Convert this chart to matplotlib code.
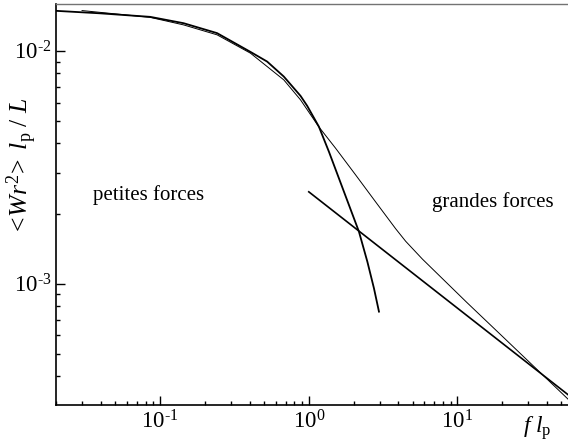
import matplotlib
matplotlib.use("Agg")
import matplotlib.pyplot as plt
import numpy as np
from matplotlib.ticker import LogLocator, NullFormatter, FuncFormatter

plt.rcParams['font.family'] = ['Liberation Serif', 'DejaVu Serif']
plt.rcParams['mathtext.fontset'] = 'custom'
plt.rcParams['mathtext.rm'] = 'Liberation Serif'
plt.rcParams['mathtext.it'] = 'Liberation Serif:italic'
plt.rcParams['mathtext.bf'] = 'Liberation Serif:bold'
plt.rcParams['axes.unicode_minus'] = False

# Exact curve (thin)
exact_f = [0.0298, 0.0857, 0.1437, 0.2414, 0.405, 0.679, 0.880, 1.169, 1.514, 2.066,
           2.818, 3.846, 4.49, 5.821, 11.58, 19.63, 32.8, 56.4]
exact_y = [0.01490, 0.01393, 0.01293, 0.01172, 0.009775, 0.007505, 0.006158, 0.004714,
           0.003819, 0.002932, 0.002244, 0.001720, 0.001520, 0.001274, 0.000830,
           0.000602, 0.000440, 0.000316]

# Small-force approximation (thick)
small_f = [0.0199, 0.0394, 0.0857, 0.1437, 0.2414, 0.405, 0.5246, 0.679, 0.880, 0.976,
           1.169, 1.365, 1.594, 1.862, 2.175, 2.478, 2.745, 2.967]
small_y = [0.01486, 0.01450, 0.01400, 0.01315, 0.01192, 0.00990, 0.008995, 0.007757,
           0.006406, 0.005802, 0.004728, 0.003694, 0.002838, 0.002179, 0.001673,
           0.001243, 0.000955, 0.000758]

# Large-force asymptote (straight line)
large_f = [1.0, 56.0]
large_y = [2.48e-3, 3.32e-4]


def log_label(v, pos):
    e = int(round(np.log10(v)))
    if e < 0:
        return r'$10^{\text{-}%d}$' % (-e)
    return r'$10^{%d}$' % e


fig = plt.figure(figsize=(5.68, 4.45), dpi=100)
ax = fig.add_axes([56/568, 1 - 405/445, 1 - 56/568 + 0.002, (405 - 4)/445])

ax.plot(exact_f, exact_y, color='black', lw=0.7, solid_joinstyle='round')
ax.plot(small_f, small_y, color='black', lw=1.3, solid_joinstyle='round')
ax.plot(large_f, large_y, color='black', lw=1.2)

ax.set_xscale('log')
ax.set_yscale('log')
ax.set_xlim(0.0199, 56.5)
ax.set_ylim(3.01e-4, 0.0159)

ax.xaxis.set_minor_locator(LogLocator(base=10, subs=range(2, 10)))
ax.yaxis.set_minor_locator(LogLocator(base=10, subs=range(2, 10)))
ax.xaxis.set_major_formatter(FuncFormatter(log_label))
ax.yaxis.set_major_formatter(FuncFormatter(log_label))
ax.xaxis.set_minor_formatter(NullFormatter())
ax.yaxis.set_minor_formatter(NullFormatter())

ax.tick_params(which='both', direction='in', top=False, right=False, width=1.0, labelsize=16.5)
ax.tick_params(which='major', length=6.5)
ax.tick_params(which='minor', length=3.2)
ax.tick_params(axis='x', which='major', pad=4)
ax.tick_params(axis='y', which='major', pad=3)

for s in ['left', 'bottom']:
    ax.spines[s].set_linewidth(1.2)
ax.spines['top'].set_color('0.45')
ax.spines['top'].set_linewidth(1.0)
ax.spines['right'].set_visible(False)

fig.text(22/568, 1 - 166/445, r'$<\!Wr^{2}\!>\ l_{\mathrm{p}}\ /\ L$', rotation=90,
         ha='center', va='center', fontsize=18.5)
fig.text(537/568, 1 - 428/445, r'$f\ l_{\mathrm{p}}$', ha='center', va='center', fontsize=17)

ax.text((148 - 56)/512, (405 - 195)/401, 'petites forces', transform=ax.transAxes,
        ha='center', va='center', fontsize=15)
ax.text((492 - 56)/512, (405 - 202)/401, 'grandes forces', transform=ax.transAxes,
        ha='center', va='center', fontsize=15)

fig.savefig('out.png', dpi=100)
